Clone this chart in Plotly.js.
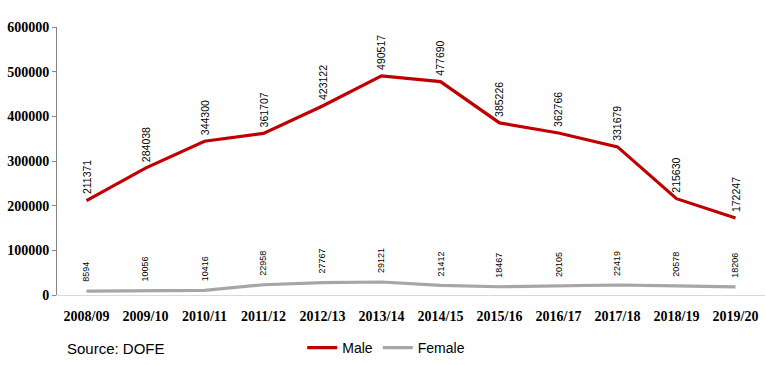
<!DOCTYPE html>
<html>
<head>
<meta charset="utf-8">
<script src="https://cdn.plot.ly/plotly-3.0.1.min.js"></script>
<style>html,body{margin:0;padding:0;background:#fff;}#chart{width:766px;height:365px;}</style>
</head>
<body>
<div id="chart"></div>
<script>
const years = ["2008/09","2009/10","2010/11","2011/12","2012/13","2013/14","2014/15","2015/16","2016/17","2017/18","2018/19","2019/20"];
const male = [211371,284038,344300,361707,423122,490517,477690,385226,362766,331679,215630,172247];
const female = [8594,10056,10416,22958,27767,29121,21412,18467,20105,22419,20578,18206];
const yTicks = [0,100000,200000,300000,400000,500000,600000];

const maleColor = "#C00000";
const femaleColor = "#A6A6A6";

const traces = [
  {x: years, y: male, name: "Male", type: "scatter", mode: "lines",
   line: {color: maleColor, width: 3.2}},
  {x: years, y: female, name: "Female", type: "scatter", mode: "lines",
   line: {color: femaleColor, width: 3.2}}
];

const annotations = [];
years.forEach((yr, i) => {
  annotations.push({x: yr, y: male[i], xref: "x", yref: "y", text: String(male[i]),
    showarrow: false, textangle: -90, xanchor: "center", yanchor: "bottom", yshift: 4,
    font: {family: "Liberation Sans, Arial, sans-serif", size: 10.5, color: "#000"}});
  annotations.push({x: yr, y: female[i], xref: "x", yref: "y", text: String(female[i]),
    showarrow: false, textangle: -90, xanchor: "center", yanchor: "bottom", yshift: 7,
    font: {family: "Liberation Sans, Arial, sans-serif", size: 9, color: "#000"}});
});
annotations.push({x: 0.012, y: -0.2, xref: "paper", yref: "paper", text: "Source: DOFE",
  showarrow: false, xanchor: "left", yanchor: "middle",
  font: {family: "Liberation Sans, Arial, sans-serif", size: 15, color: "#000"}});

const layout = {
  width: 766, height: 365,
  margin: {l: 57, r: 1, t: 27, b: 70},
  paper_bgcolor: "#fff", plot_bgcolor: "#fff",
  showlegend: true,
  legend: {orientation: "h", x: 0.465, xanchor: "center", y: -0.198, yanchor: "middle",
    font: {family: "Liberation Sans, Arial, sans-serif", size: 14, color: "#000"},
    itemwidth: 30, tracegroupgap: 0},
  xaxis: {type: "category", showgrid: false, zeroline: false,
    showline: true, linecolor: "#D9D9D9", linewidth: 1,
    ticks: "", ticklabelstandoff: 8,
    tickfont: {family: "Liberation Serif, Times New Roman, serif", size: 14, color: "#000", weight: "bold"},
    range: [-0.5, 11.5], fixedrange: true},
  yaxis: {range: [0, 600000], tickvals: yTicks, ticktext: yTicks.map(String),
    showgrid: false, zeroline: false, showline: true, linecolor: "#868686", linewidth: 1,
    ticks: "outside", ticklen: 4, tickcolor: "#868686",
    tickfont: {family: "Liberation Serif, Times New Roman, serif", size: 14, color: "#000", weight: "bold"}},
  annotations: annotations
};

Plotly.newPlot("chart", traces, layout, {displayModeBar: false, staticPlot: true});
</script>
</body>
</html>
